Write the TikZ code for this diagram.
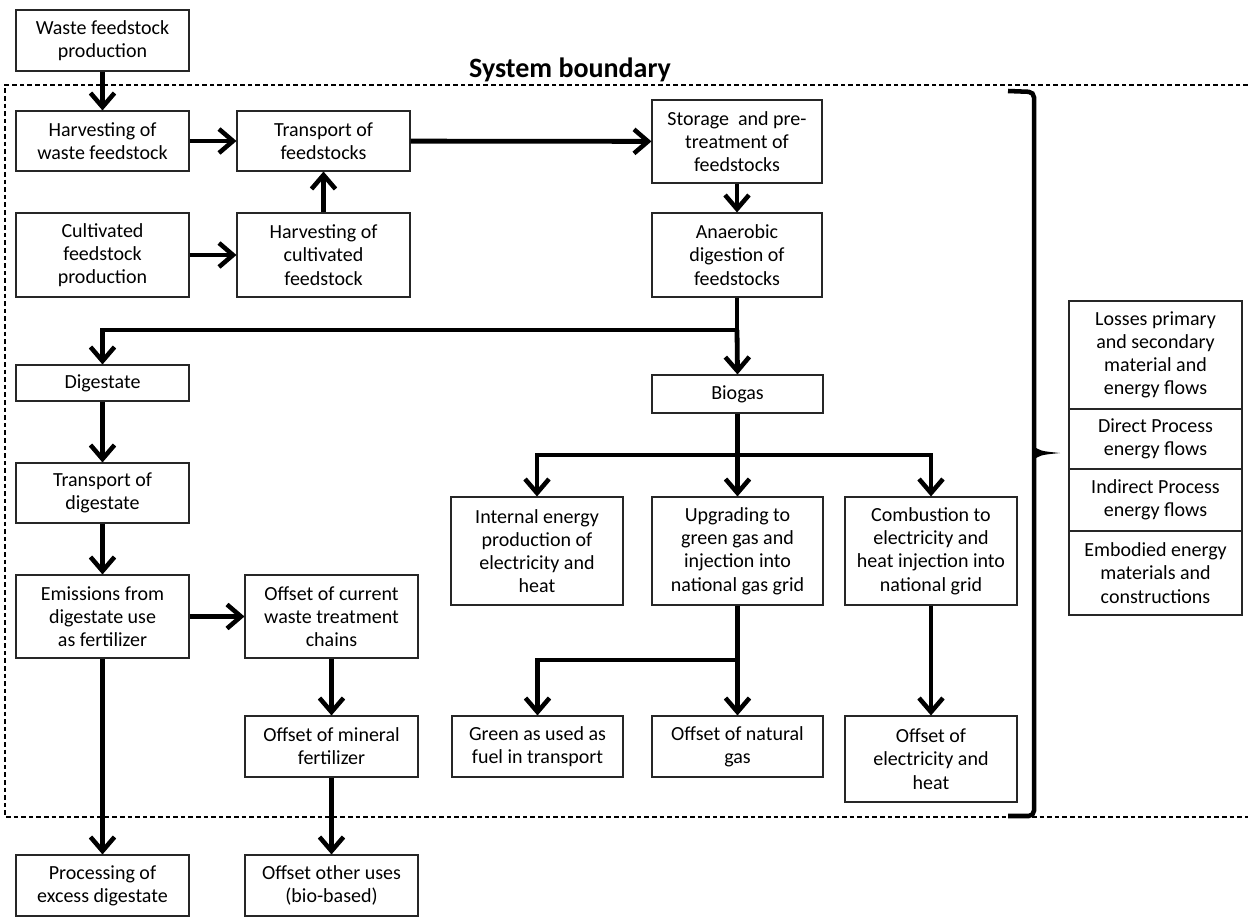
\documentclass[tikz,border=0pt]{standalone}
\usepackage{fontspec}
\setmainfont{Carlito}
\usetikzlibrary{arrows.meta}

% process box given by its corners: name, x1, y1, x2, y2, text
\newcommand\procbox[6]{%
  \node[pbox, minimum width={(#4-#2)*0.75pt}, minimum height={(#5-#3)*0.75pt}]
    (#1) at ({(#2+#4)/2},{(#3+#5)/2}) {#6};}

\begin{document}
\begin{tikzpicture}[x=0.75pt,y=-0.75pt,
  pbox/.style={draw=black!85, line width=0.8pt, align=center, inner sep=0pt,
    font=\fontsize{15}{17.4}\selectfont},
  flow/.style={line width=3.6pt,
    -{Straight Barb[length=10.5pt,width=18pt,line width=3.4pt]}},
  link/.style={line width=3.6pt},
  boundary/.style={line width=0.8pt, dash pattern=on 3.5pt off 2.2pt},
  bracket/.style={line width=3.4pt, rounded corners=4pt}]

\useasboundingbox (0,0) rectangle (1248,917);

% system boundary
\draw[boundary] (1248,85) -- (5,85) -- (5,817) -- (1248,817);
\node[font=\fontsize{21}{24}\selectfont\bfseries] (title) at (570,70) {System boundary};

% feedstock chain
\procbox{wprod}{16}{10}{189}{71}{Waste feedstock\\production}
\procbox{wharv}{16}{111}{189}{171}{Harvesting of\\waste feedstock}
\procbox{transp}{237}{111}{410}{171}{Transport of\\feedstocks}
\procbox{cprod}{16}{213}{189}{297}{Cultivated\\feedstock\\production}
\procbox{charv}{237}{213}{410}{297}{Harvesting of\\cultivated\\feedstock}
\procbox{store}{652}{100}{822}{183}{Storage\ \ and pre-\\treatment of\\feedstocks}
\procbox{anaer}{652}{213}{822}{297}{Anaerobic\\digestion of\\feedstocks}

% digestate chain
\procbox{dig}{16}{365}{189}{401}{Digestate}
\procbox{tdig}{16}{463}{189}{523}{Transport of\\digestate}
\procbox{emis}{16}{575}{189}{658}{Emissions from\\digestate use\\as fertilizer}
\procbox{owaste}{245}{575}{418}{658}{Offset of current\\waste treatment\\chains}
\procbox{omin}{245}{716}{418}{777}{Offset of mineral\\fertilizer}
\procbox{proc}{16}{855}{189}{916}{Processing of\\excess digestate}
\procbox{oother}{245}{855}{418}{916}{Offset other uses\\(bio-based)}

% biogas chain
\procbox{biogas}{652}{375}{823}{413}{Biogas}
\procbox{internal}{451}{497}{623}{605}{Internal energy\\production of\\electricity and\\heat}
\procbox{upgrade}{652}{497}{823}{605}{Upgrading to\\green gas and\\injection into\\national gas grid}
\procbox{comb}{845}{497}{1017}{605}{Combustion to\\electricity and\\heat injection into\\national grid}
\procbox{green}{452}{716}{623}{777}{Green as used as\\fuel in transport}
\procbox{ongas}{652}{716}{823}{777}{Offset of natural\\gas}
\procbox{oelec}{845}{716}{1017}{802}{Offset of\\electricity and\\heat}

% energy flow categories
\procbox{loss}{1069}{301}{1242}{409}{Losses primary\\and secondary\\material and\\energy flows}
\procbox{direct}{1069}{409}{1242}{469}{Direct Process\\energy flows}
\procbox{indirect}{1069}{469}{1242}{531}{Indirect Process\\energy flows}
\procbox{embod}{1069}{531}{1242}{615}{Embodied energy\\materials and\\constructions}

% branch points
\coordinate (split) at (anaer.south |- 0,330);
\coordinate (gsplit) at (biogas.south |- 0,455);
\coordinate (usplit) at (upgrade.south |- 0,660);

% connectors
\draw[flow] (wprod) -- (wharv);
\draw[flow] (wharv) -- (transp);
\draw[flow] (cprod) -- (charv);
\draw[flow] (charv) -- (transp);
\draw[flow] (transp) -- (store);
\draw[flow] (store) -- (anaer);
\draw[link] (anaer.south) -- (split);
\draw[flow] (split) -| (dig.north);
\draw[flow] (split) -- (biogas.north);
\draw[flow] (dig) -- (tdig);
\draw[flow] (tdig) -- (emis);
\draw[flow] (emis) -- (owaste);
\draw[flow] (owaste) -- (omin);
\draw[flow] (omin) -- (oother);
\draw[flow] (emis) -- (proc);
\draw[link] (biogas.south) -- (gsplit);
\draw[flow] (gsplit) -| (internal.north);
\draw[flow] (gsplit) -- (upgrade.north);
\draw[flow] (gsplit) -| (comb.north);
\draw[link] (upgrade.south) -- (usplit);
\draw[flow] (usplit) -| (green.north);
\draw[flow] (usplit) -- (ongas.north);
\draw[flow] (comb) -- (oelec);

% bracket gathering the system boundary
\coordinate (btop) at (1008,91);
\coordinate (bbot) at (1008,816);
\draw[bracket] (btop) -- (1034,92) -- (1034,816) -- (bbot);
\fill (1032,445) .. controls (1040,451) .. (1060,453)
  .. controls (1040,455) .. (1032,461) -- cycle;
\end{tikzpicture}
\end{document}
